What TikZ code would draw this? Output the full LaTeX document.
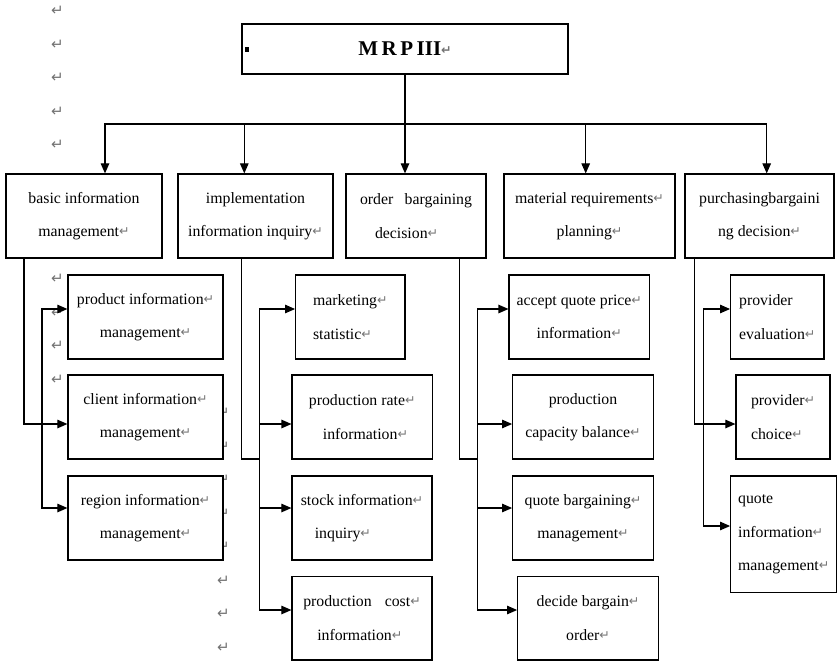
\documentclass[tikz,border=0pt]{standalone}
\usepackage{fontspec}
\setmainfont{Liberation Serif}
\newfontfamily\retfont{DejaVu Sans}
\usetikzlibrary{arrows.meta}
% paragraph mark after each line
\newcommand\retmk{\raisebox{1pt}{\retfont\fontsize{12.5}{12.5}\selectfont\color{black!55}↵}}

\begin{document}
\begin{tikzpicture}[x=1pt,y=-1pt,
  box/.style={draw,line width=1.2pt,fill=white,minimum height=84pt,inner sep=0pt,
    font=\fontsize{15.8}{33.5}\selectfont,align=center},
  lbox/.style={box,align=left},
  arr/.style={line width=1.1pt,-{Triangle[length=10pt,width=8.5pt]}},
  link/.style={line width=1.1pt},
  retnode/.style={inner sep=0pt,text=black!55,font=\retfont\fontsize{15}{15}\selectfont}]
\useasboundingbox (0,0) rectangle (837,662);

% stray paragraph marks down the margin
\foreach \i in {0,...,11}
  \node[retnode] at (57.5,{11+33.5*\i}) {↵};
\foreach \i in {12,...,19}
  \node[retnode] at (223.5,{11+33.5*\i}) {↵};

% root
\node[box,minimum width=326pt,minimum height=50pt,
  font=\fontsize{21}{21}\selectfont\bfseries] (top) at (405,49) {M\,R\,P\,III\retmk};
\fill ([xshift=3.5pt,yshift=2.5pt]top.west) rectangle ++(4.5,5);

% first level
\node[box,minimum width=156pt] (basic) at (84,216) {basic information\\management\retmk};
\node[box,minimum width=155pt] (impl) at (255.5,216) {implementation\\information inquiry\retmk};
\node[lbox,minimum width=140pt] (order) at (416,216)
  {\makebox[112pt][s]{order bargaining}\\\hspace*{15pt}decision\retmk};
\node[box,minimum width=171pt] (material) at (589.5,216) {material requirements\retmk\\planning\retmk};
\node[box,minimum width=149pt] (purch) at (759.5,216) {purchasingbargaini\\ng decision\retmk};

\coordinate (split) at (405,124);
\draw[link] (top.south) -- (split);
\draw[arr] (split) -| ([xshift=21pt]basic.north);
\draw[arr] (split) -| ([xshift=-11.2pt]impl.north);
\draw[arr] (split) -| ([xshift=-11pt]order.north);
\draw[arr] (split) -| ([xshift=-3.8pt]material.north);
\draw[arr] (split) -| ([xshift=7.2pt]purch.north);

% basic information management
\node[box,minimum width=155pt] (prod) at (145.5,317) {product information\retmk\\management\retmk};
\node[box,minimum width=155pt] (client) at (145.5,417) {client information\retmk\\management\retmk};
\node[box,minimum width=155pt] (region) at (145.5,518) {region information\retmk\\management\retmk};

\draw[arr] ([xshift=-60pt]basic.south) |- ([yshift=-7pt]client.west);
\coordinate (sp1) at (42,424);
\draw[arr] (sp1) |- ([yshift=8pt]prod.west);
\draw[arr] (sp1) |- ([yshift=10pt]region.west);

% implementation information inquiry
\node[lbox,minimum width=109.3pt] (mkt) at (350.3,317) {marketing\retmk\\statistic\retmk};
\node[lbox,minimum width=140.3pt] (rate) at (362.2,417)
  {production rate\retmk\\\hspace*{14pt}information\retmk};
\node[lbox,minimum width=140pt] (stock) at (362,518)
  {stock information\retmk\\\hspace*{14pt}inquiry\retmk};
\node[lbox,minimum width=140pt,minimum height=83.3pt] (cost) at (362,618.3)
  {\makebox[107pt][s]{production cost}\retmk\\\hspace*{14pt}information\retmk};

\coordinate (sp2) at (259.7,459);
\draw[link] ([xshift=-13.8pt]impl.south) |- (sp2);
\draw[arr] (sp2) |- ([yshift=8pt]mkt.west);
\draw[arr] (sp2) |- ([yshift=-7pt]rate.west);
\draw[arr] (sp2) |- ([yshift=10pt]stock.west);
\draw[arr] (sp2) |- ([yshift=8.3pt]cost.west);

% order bargaining decision
\node[box,minimum width=140.3pt] (acc) at (579.2,317) {accept quote price\retmk\\information\retmk};
\node[box,minimum width=140.6pt] (cap) at (583,417) {production\\capacity balance\retmk};
\node[box,minimum width=140.6pt] (qbm) at (583,518) {quote bargaining\retmk\\management\retmk};
\node[box,minimum width=140.6pt,minimum height=83.3pt] (dec) at (588,618.3) {decide bargain\retmk\\order\retmk};

\coordinate (sp3) at (477.3,459);
\draw[link] ([xshift=43.3pt]order.south) |- (sp3);
\draw[arr] (sp3) |- ([yshift=8pt]acc.west);
\draw[arr] (sp3) |- ([yshift=-7pt]cap.west);
\draw[arr] (sp3) |- ([yshift=10pt]qbm.west);
\draw[arr] (sp3) |- ([yshift=8.3pt]dec.west);

% purchasing bargaining decision
\node[lbox,minimum width=93.3pt] (peval) at (777.3,317) {provider\\evaluation\retmk};
\node[lbox,minimum width=94pt] (pch) at (783,417) {provider\retmk\\choice\retmk};
\node[lbox,minimum width=106pt,minimum height=116.7pt] (qinfo) at (783.7,534.3)
  {quote\\information\retmk\\management\retmk};

\draw[arr] ([xshift=-65.2pt]purch.south) |- ([yshift=-7pt]pch.west);
\coordinate (sp4) at (703.3,424);
\draw[arr] (sp4) |- ([yshift=8pt]peval.west);
\draw[arr] (sp4) |- ([yshift=8.3pt]qinfo.west);
\end{tikzpicture}
\end{document}
